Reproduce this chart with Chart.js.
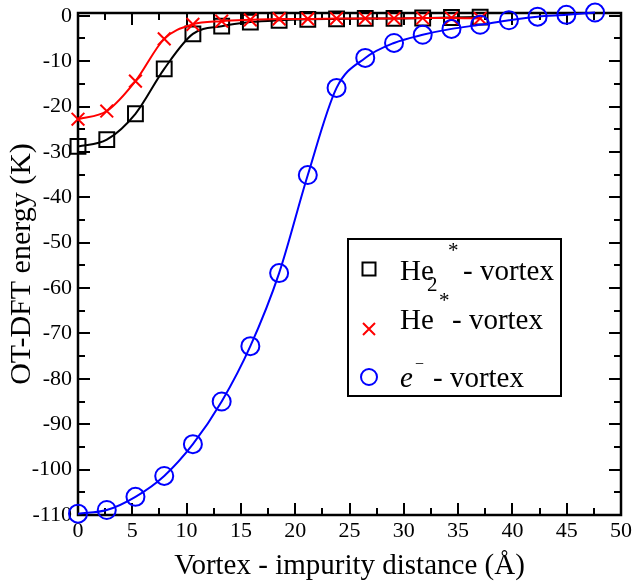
<!DOCTYPE html>
<html><head><meta charset="utf-8">
<script src="https://cdn.jsdelivr.net/npm/chart.js@4"></script>
<style>html,body{margin:0;padding:0;background:#fff}canvas{display:block}</style>
</head><body>
<canvas id="c" width="636" height="584" style="width:636px;height:584px"></canvas>
<script>
// ---- data ----
const distances = [0, 2.65, 5.29, 7.94, 10.58, 13.23, 15.87, 18.52, 21.16, 23.81, 26.45, 29.1, 31.74, 34.39, 37.03, 39.68, 42.32, 44.97, 47.61];
const he2Energy = [-28.8, -27.3, -21.6, -11.7, -4.0, -2.3, -1.4, -1.0, -0.8, -0.7, -0.6, -0.6, -0.5, -0.4, -0.3];
const heEnergy = [-22.8, -21.0, -14.4, -5.1, -1.9, -1.2, -0.9, -0.7, -0.7, -0.6, -0.6, -0.6, -0.5, -0.5, -0.6];
const electronEnergy = [-109.7, -108.9, -106.0, -101.4, -94.4, -85.0, -72.8, -56.7, -35.1, -15.9, -9.3, -6.0, -4.2, -2.9, -2.0, -1.0, -0.2, 0.2, 0.7];
const xTicks = [0, 5, 10, 15, 20, 25, 30, 35, 40, 45, 50];
const yTicks = [-110, -100, -90, -80, -70, -60, -50, -40, -30, -20, -10, 0];
const xTitle = 'Vortex - impurity distance (Å)';
const yTitle = 'OT-DFT energy (K)';
const legendParts = [
  {base: 'He', sub: '2', sup: '*', rest: '- vortex'},
  {base: 'He', sub: '', sup: '*', rest: '- vortex'},
  {base: 'e', sub: '', sup: '−', rest: '- vortex'}
];

const SERIF = "'Liberation Serif', 'Times New Roman', serif";
const toPts = (vals) => vals.map((v, i) => ({x: distances[i], y: v}));

const framePlugin = {
  id: 'frame',
  beforeDatasetsDraw(chart) {
    const {ctx, chartArea: a, scales: {x, y}} = chart;
    ctx.save();
    ctx.strokeStyle = '#000';
    ctx.lineCap = 'butt';
    ctx.lineWidth = 2;
    const MAJ = 12, MIN = 7;
    const xt = [];
    xTicks.forEach((v, i) => { xt.push([v, MAJ]); if (i < xTicks.length - 1) xt.push([(v + xTicks[i + 1]) / 2, MIN]); });
    const yt = [];
    yTicks.forEach((v, i) => { yt.push([v, MAJ]); if (i < yTicks.length - 1) yt.push([(v + yTicks[i + 1]) / 2, MIN]); });
    ctx.beginPath();
    xt.forEach(([v, L]) => {
      const px = Math.round(x.getPixelForValue(v));
      ctx.moveTo(px, a.bottom); ctx.lineTo(px, a.bottom - L);
      ctx.moveTo(px, a.top); ctx.lineTo(px, a.top + L);
    });
    yt.forEach(([v, L]) => {
      const py = Math.round(y.getPixelForValue(v));
      ctx.moveTo(a.left, py); ctx.lineTo(a.left + L, py);
      ctx.moveTo(a.right, py); ctx.lineTo(a.right - L, py);
    });
    ctx.stroke();
    ctx.lineWidth = 2.5;
    ctx.strokeRect(a.left, a.top, a.right - a.left, a.bottom - a.top);
    ctx.restore();
  }
};

const legendPlugin = {
  id: 'customLegend',
  afterDatasetsDraw(chart) {
    const ctx = chart.ctx;
    ctx.save();
    ctx.fillStyle = '#fff';
    ctx.fillRect(348, 239, 213, 157);
    ctx.strokeStyle = '#000';
    ctx.lineWidth = 2;
    ctx.strokeRect(348, 239, 213, 157);
    // symbols
    ctx.lineWidth = 2;
    ctx.strokeStyle = '#000';
    ctx.strokeRect(369 - 6.5, 269 - 6.5, 13, 13);
    ctx.strokeStyle = '#ff0000';
    ctx.beginPath();
    ctx.moveTo(363, 323); ctx.lineTo(375, 335);
    ctx.moveTo(375, 323); ctx.lineTo(363, 335);
    ctx.stroke();
    ctx.strokeStyle = '#0000ff';
    ctx.beginPath(); ctx.arc(369, 377, 8, 0, Math.PI * 2); ctx.stroke();
    // texts
    ctx.fillStyle = '#000';
    ctx.textBaseline = 'alphabetic';
    ctx.textAlign = 'left';
    // row 1
    ctx.font = '29px ' + SERIF;
    ctx.fillText(legendParts[0].base, 400, 280);
    ctx.font = '21px ' + SERIF;
    ctx.fillText(legendParts[0].sub, 427, 291);
    ctx.fillText(legendParts[0].sup, 448, 257);
    ctx.font = '29px ' + SERIF;
    ctx.fillText(legendParts[0].rest, 463, 280);
    // row 2
    ctx.fillText(legendParts[1].base, 400, 329);
    ctx.font = '21px ' + SERIF;
    ctx.fillText(legendParts[1].sup, 439, 307);
    ctx.font = '29px ' + SERIF;
    ctx.fillText(legendParts[1].rest, 452, 329);
    // row 3
    ctx.font = 'italic 29px ' + SERIF;
    ctx.fillText(legendParts[2].base, 400, 387);
    ctx.font = '16px ' + SERIF;
    ctx.fillText(legendParts[2].sup, 415, 369);
    ctx.font = '29px ' + SERIF;
    ctx.fillText(legendParts[2].rest, 433, 387);
    ctx.restore();
  }
};

new Chart(document.getElementById('c'), {
  type: 'line',
  data: {
    datasets: [
      {
        label: 'e- - vortex', data: toPts(electronEnergy), order: 1,
        borderColor: '#0000ff', backgroundColor: 'rgba(0,0,0,0)', borderWidth: 2,
        pointStyle: 'circle', pointRadius: 9, pointBorderWidth: 2,
        pointBorderColor: '#0000ff', pointBackgroundColor: 'rgba(0,0,0,0)',
        cubicInterpolationMode: 'monotone', clip: false
      },
      {
        label: 'He* - vortex', data: toPts(heEnergy), order: 2,
        borderColor: '#ff0000', backgroundColor: 'rgba(0,0,0,0)', borderWidth: 2,
        pointStyle: 'crossRot', pointRadius: 9, pointBorderWidth: 2,
        pointBorderColor: '#ff0000',
        cubicInterpolationMode: 'monotone', clip: false
      },
      {
        label: 'He2* - vortex', data: toPts(he2Energy), order: 3,
        borderColor: '#000000', backgroundColor: 'rgba(0,0,0,0)', borderWidth: 2,
        pointStyle: 'rect', pointRadius: 10.5, pointBorderWidth: 2,
        pointBorderColor: '#000000', pointBackgroundColor: 'rgba(0,0,0,0)',
        cubicInterpolationMode: 'monotone', clip: false
      }
    ]
  },
  options: {
    responsive: false,
    devicePixelRatio: 1,
    animation: false,
    layout: {padding: {left: 0, top: 13, right: 15, bottom: 0}},
    plugins: {legend: {display: false}, tooltip: {enabled: false}},
    scales: {
      x: {
        type: 'linear', min: 0, max: 50,
        grid: {display: false, drawTicks: false},
        border: {display: false},
        afterBuildTicks: (s) => { s.ticks = xTicks.map(v => ({value: v})); },
        afterFit: (s) => { s.height = 69; s.paddingLeft = 0; s.paddingRight = 0; },
        ticks: {color: '#000', font: {family: SERIF, size: 22}, padding: 3, maxRotation: 0, autoSkip: false,
          callback: (v) => String(v)},
        title: {display: true, text: xTitle, color: '#000', font: {family: SERIF, size: 29}, padding: {top: 0, bottom: 0}}
      },
      y: {
        type: 'linear', min: -110, max: 0.6,
        grid: {display: false, drawTicks: false},
        border: {display: false},
        afterBuildTicks: (s) => { s.ticks = yTicks.map(v => ({value: v})); },
        afterFit: (s) => { s.width = 78; s.paddingTop = 0; s.paddingBottom = 0; },
        ticks: {color: '#000', font: {family: SERIF, size: 22}, padding: 6, autoSkip: false,
          callback: (v) => String(v)},
        title: {display: true, text: yTitle, color: '#000', font: {family: SERIF, size: 30}, padding: {top: 4, bottom: 0}}
      }
    }
  },
  plugins: [framePlugin, legendPlugin]
});
</script>
</body></html>
